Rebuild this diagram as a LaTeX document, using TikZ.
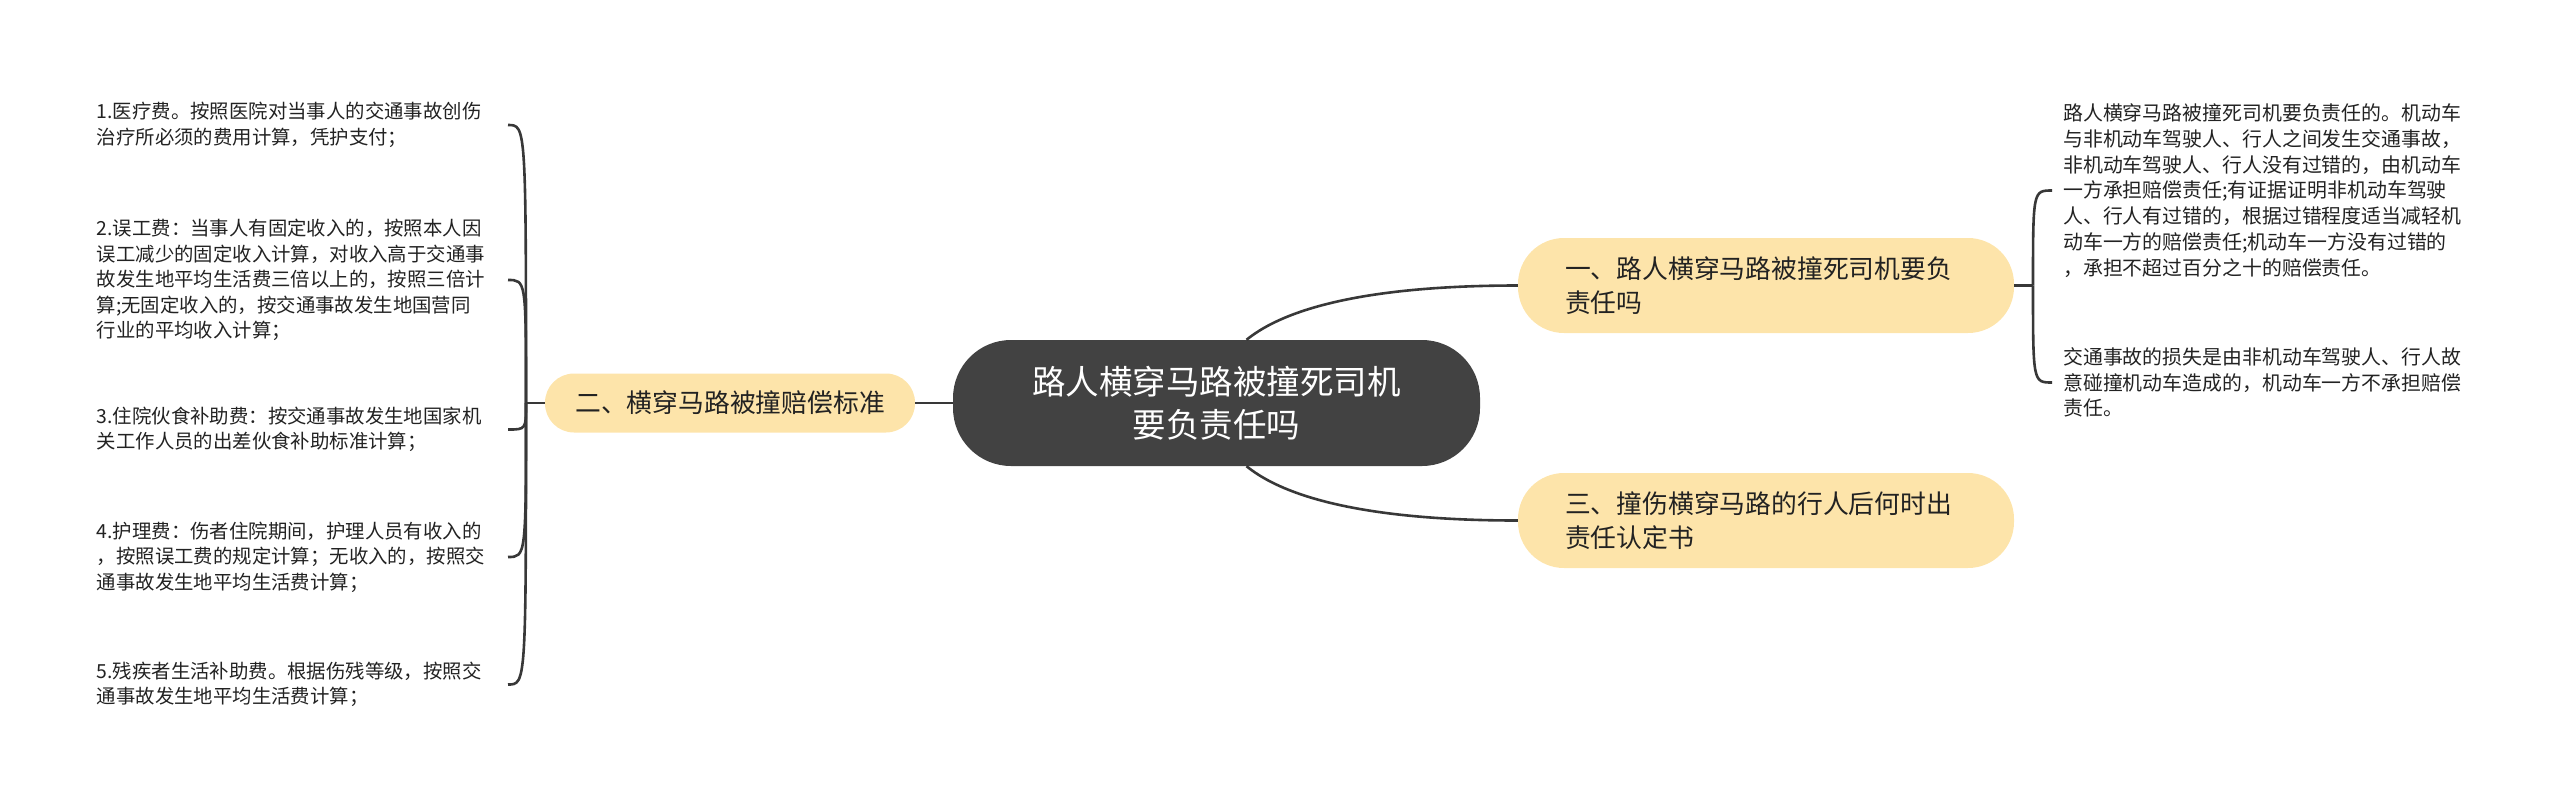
\documentclass[tikz,border=0pt]{standalone}
\usepackage{fontspec}
\setmainfont{Noto Sans CJK SC}
\usetikzlibrary{calc}
\definecolor{darknode}{HTML}{424242}
\definecolor{yellownode}{HTML}{FDE4AA}
\definecolor{linecol}{HTML}{383838}
\definecolor{txt}{HTML}{222222}
\begin{document}
\begin{tikzpicture}[x=1pt,y=-1pt,
  conn/.style={draw=linecol, line width=2.6pt},
  central/.style={fill=darknode, text=white, rounded corners=58pt, minimum width=527pt, minimum height=126pt, align=center, inner sep=0pt, font=\fontsize{33.5}{43}\selectfont},
  topic/.style={fill=yellownode, text=txt, rounded corners=46pt, minimum height=95pt, text width=402pt, align=left, inner xsep=47pt, inner ysep=0pt, font=\fontsize{25.8}{34}\selectfont},
  topicl/.style={fill=yellownode, text=txt, rounded corners=29pt, minimum width=370pt, minimum height=59pt, align=center, inner sep=0pt, font=\fontsize{25.8}{34}\selectfont},
  leaf/.style={text=txt, text width=405pt, align=left, inner xsep=6pt, inner ysep=0pt, font=\fontsize{19.4}{25.5}\selectfont},
  leafr/.style={leaf, text width=410pt, inner xsep=11pt, font=\fontsize{19.9}{25.8}\selectfont},
]
\useasboundingbox (0,0) rectangle (2560,807);

\node[central] (c) at (1216.5,403) {路人横穿马路被撞死司机\\要负责任吗};
\node[topicl] (t2) at (730,403) {二、横穿马路被撞赔偿标准};
\node[topic] (t1) at (1766,285.5) {一、路人横穿马路被撞死司机要负\\责任吗};
\node[topic] (t3) at (1766,520.5) {三、撞伤横穿马路的行人后何时出\\责任认定书};

\node[leaf, anchor=east] (l1) at (508,125) {1.医疗费。按照医院对当事人的交通事故创伤\\治疗所必须的费用计算，凭护支付；};
\node[leaf, anchor=east] (l2) at (508,280) {2.误工费：当事人有固定收入的，按照本人因\\误工减少的固定收入计算，对收入高于交通事\\故发生地平均生活费三倍以上的，按照三倍计\\算;无固定收入的，按交通事故发生地国营同\\行业的平均收入计算；};
\node[leaf, anchor=east] (l3) at (508,429.5) {3.住院伙食补助费：按交通事故发生地国家机\\关工作人员的出差伙食补助标准计算；};
\node[leaf, anchor=east] (l4) at (508,557) {4.护理费：伤者住院期间，护理人员有收入的\\，按照误工费的规定计算；无收入的，按照交\\通事故发生地平均生活费计算；};
\node[leaf, anchor=east] (l5) at (508,684.5) {5.残疾者生活补助费。根据伤残等级，按照交\\通事故发生地平均生活费计算；};

\node[leafr, anchor=west] (r1) at (2052,190.5) {路人横穿马路被撞死司机要负责任的。机动车\\与非机动车驾驶人、行人之间发生交通事故，\\非机动车驾驶人、行人没有过错的，由机动车\\一方承担赔偿责任;有证据证明非机动车驾驶\\人、行人有过错的，根据过错程度适当减轻机\\动车一方的赔偿责任;机动车一方没有过错的\\，承担不超过百分之十的赔偿责任。};
\node[leafr, anchor=west] (r2) at (2052,382.5) {交通事故的损失是由非机动车驾驶人、行人故\\意碰撞机动车造成的，机动车一方不承担赔偿\\责任。};

\coordinate (jl) at (526,403);
\coordinate (jr) at (2033,285.5);

\draw[conn] (c.west) -- (t2.east);
\draw[conn] (t2.west) -- (jl);
\foreach \n in {l1,l2,l3,l4,l5}
  \draw[conn] (jl) .. controls (jl |- \n.east) and (jl |- \n.east) .. (\n.east);

\draw[conn] (t1.east) -- (jr);
\foreach \n in {r1,r2}
  \draw[conn] (jr) .. controls (jr |- \n.west) and (jr |- \n.west) .. (\n.west);

\draw[conn] ($(c.north)+(30,0)$) .. controls +(43,-35) and +(-138,0) .. (t1.west);
\draw[conn] ($(c.south)+(30,0)$) .. controls +(43,35) and +(-138,0) .. (t3.west);
\end{tikzpicture}
\end{document}
